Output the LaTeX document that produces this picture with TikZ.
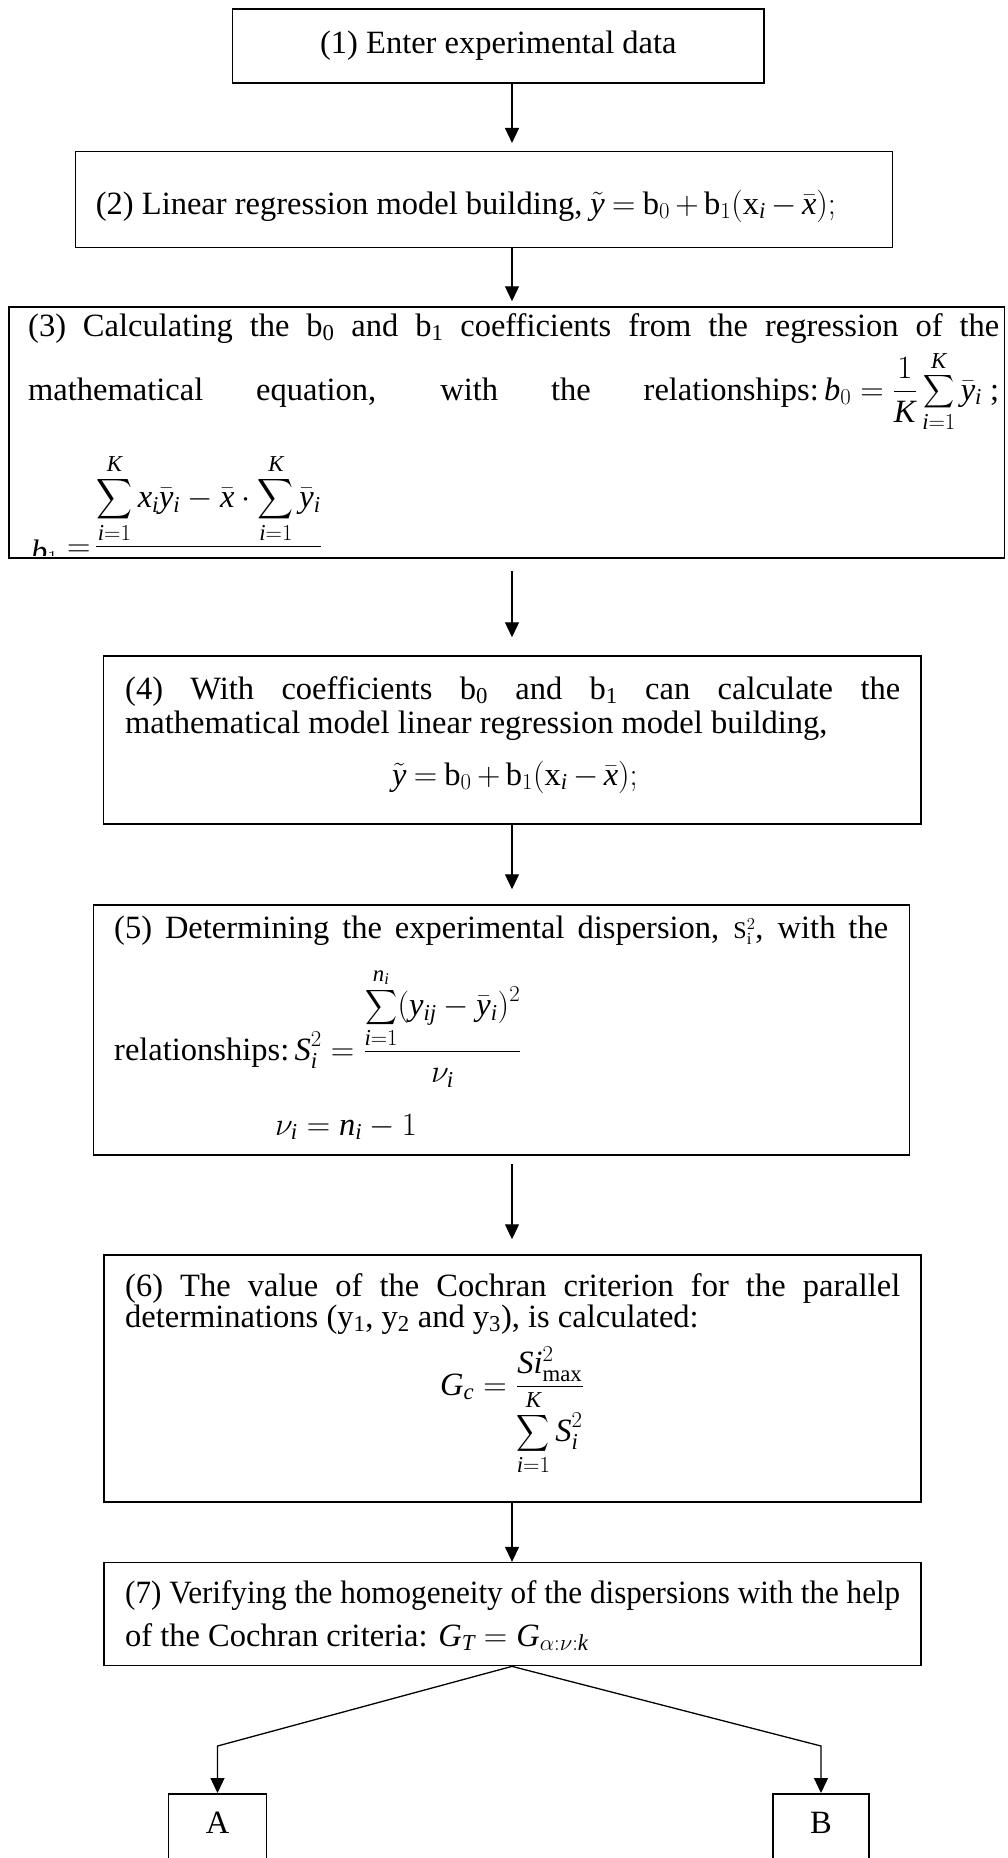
\documentclass[tikz,border=0pt]{standalone}
\usepackage{fix-cm}
\usepackage{amsmath}
\usepackage{fontspec}
\setmainfont{Liberation Serif}
\usepackage{graphicx}
\usetikzlibrary{arrows.meta}
\makeatletter
\DeclareSymbolFont{tmit}{TU}{\rmdefault}{m}{it}
\DeclareSymbolFont{tmup}{TU}{\rmdefault}{m}{n}
\@tfor\x:=abcdefghijklmnopqrstuvwxyzABCDEFGHIJKLMNOPQRSTUVWXYZ\do{%
  \edef\y{\noexpand\DeclareMathSymbol{\x}{\noexpand\mathalpha}{tmit}{`\x}}\y}
\@tfor\x:=0123456789\do{%
  \edef\y{\noexpand\DeclareMathSymbol{\x}{\noexpand\mathalpha}{tmup}{`\x}}\y}
\makeatother
\newcommand\fsz{\fontsize{32.5}{39}\selectfont}
\newcommand\Sig[2]{\mathop{\vcenter{\hbox{\resizebox*{#1}{#2}{$\displaystyle\sum$}}}}\limits}
\newcommand\tight{\thickmuskip=4mu \medmuskip=3mu }
\begin{document}
\begin{tikzpicture}[x=1pt,y=-1pt,
  every node/.style={font=\fsz, inner sep=0pt},
  box/.style={draw, line width=1.5pt},
  txt/.style={anchor=base west},
  ctr/.style={anchor=base},
  arr/.style={line width=1.3pt, -{Triangle[length=15pt,width=14pt]}}]
\useasboundingbox (0,0) rectangle (1007,1858);
\clip (0,0) rectangle (1007,1858);
\coordinate (sp) at (512,0);
\coordinate (brk) at (0,1746);

% box 1
\node[box, minimum width=531.3pt, minimum height=74pt] (b1) at (498.35,46) {(1) Enter experimental data};

% box 2
\node[box, minimum width=817pt, minimum height=96pt] (b2) at (484.2,199.7) {};
\node[ctr] (t2) at (466,214) {(2) Linear regression model building, {\tight$\tilde{y} = \text{b}_0 + \text{b}_1(\text{x}_i - \bar{x});$}};

% box 3
\node[box, minimum width=995.5pt, minimum height=251pt] (b3) at (506.75,432.5) {};
\node[txt] (t3a) at (28,336) {\makebox[971pt][s]{(3) Calculating the b\textsubscript{0} and b\textsubscript{1} coefficients from the regression of the}};
\node[txt] (t3b) at (28,400) {\makebox[971pt][s]{mathematical equation, with the relationships:\mbox{\,$\displaystyle b_0 = \frac{1}{K}\Sig{31pt}{37pt}_{i=1}^{K}\bar{y}_i$ ;}}};
\begin{scope}
\clip (9,307) rectangle (1004,555);
\node[txt] (t3b1) at (31,562) {$b_1$};
\node[txt] (t3eq) at (67,556) {$=$};
\node[txt] (t3c) at (95,555) {$\displaystyle \frac{\displaystyle\Sig{36pt}{45pt}_{i=1}^{K} x_i\bar{y}_i - \bar{x}\cdot\Sig{36pt}{45pt}_{i=1}^{K}\bar{y}_i}{\strut}$};
\end{scope}

% box 4
\node[box, minimum width=817.3pt, minimum height=168pt] (b4) at (512.35,740) {};
\node[txt] (t4a) at (125,699) {\makebox[775pt][s]{(4) With coefficients b\textsubscript{0} and b\textsubscript{1} can calculate the}};
\node[txt] (t4b) at (125,733) {mathematical model linear regression model building,};
\node[ctr] (t4c) at (515,785) {\tight$\tilde{y} = \text{b}_0 + \text{b}_1(\text{x}_i - \bar{x});$};

% box 5
\node[box, minimum width=816pt, minimum height=250pt] (b5) at (501.7,1030) {};
\node[txt] (t5a) at (114,938) {\makebox[774pt][s]{(5) Determining the experimental dispersion, {\fontsize{24}{24}\selectfont S$_{\text{i}}^{2}$}, with the}};
\node[txt] (t5b) at (114,1060) {relationships:\mbox{\,$\displaystyle S_i^2 = \frac{\displaystyle\Sig{32pt}{39pt}_{i=1}^{n_i}(y_{ij}-\bar{y}_i)^2}{\nu_i}$}};
\node[txt] (t5c) at (275,1135) {$\nu_i = n_i - 1$};

% box 6
\node[box, minimum width=817pt, minimum height=247pt] (b6) at (512.5,1378.5) {};
\node[txt] (t6a) at (125,1296) {\makebox[775pt][s]{(6) The value of the Cochran criterion for the parallel}};
\node[txt] (t6b) at (125,1327) {determinations (y\textsubscript{1}, y\textsubscript{2} and y\textsubscript{3}), is calculated:};
\node[ctr] (t6c) at (512,1395) {$\displaystyle G_c = \frac{Si^2_{\text{max}}}{\displaystyle\Sig{33pt}{41pt}_{i=1}^{K} S_i^2}$};

% box 7
\node[box, minimum width=817pt, minimum height=103pt] (b7) at (512.5,1614.1) {};
\node[txt] (t7a) at (125,1603) {\resizebox{775pt}{\height}{(7) Verifying the homogeneity of the dispersions with the help}};
\node[txt] (t7b) at (125,1646) {of the Cochran criteria: \mbox{$G_T = G_{\alpha:\nu:k}$}};

% A and B
\node[box, minimum width=98pt, text height=22pt, text depth=47pt, inner ysep=18pt, anchor=north] (bA) at (217.5,1793) {A};
\node[box, minimum width=96pt, text height=22pt, text depth=47pt, inner ysep=18pt, anchor=north] (bB) at (821,1793) {B};

% connectors
\draw[arr, shorten >=8pt] (b1.south -| sp) -- (b2.north -| sp);
\draw[arr, shorten >=5pt] (b2.south -| sp) -- (b3.north -| sp);
\draw[arr, shorten <=12pt, shorten >=18pt] (b3.south -| sp) -- (b4.north -| sp);
\draw[arr, shorten >=15pt] (b4.south -| sp) -- (b5.north -| sp);
\draw[arr, shorten <=8pt, shorten >=15pt] (b5.south -| sp) -- (b6.north -| sp);
\draw[arr] (b6.south -| sp) -- (b7.north -| sp);
\draw[arr] (b7.south -| sp) -- (brk -| bA.north) -- (bA.north);
\draw[arr] (b7.south -| sp) -- (brk -| bB.north) -- (bB.north);
\end{tikzpicture}
\end{document}
